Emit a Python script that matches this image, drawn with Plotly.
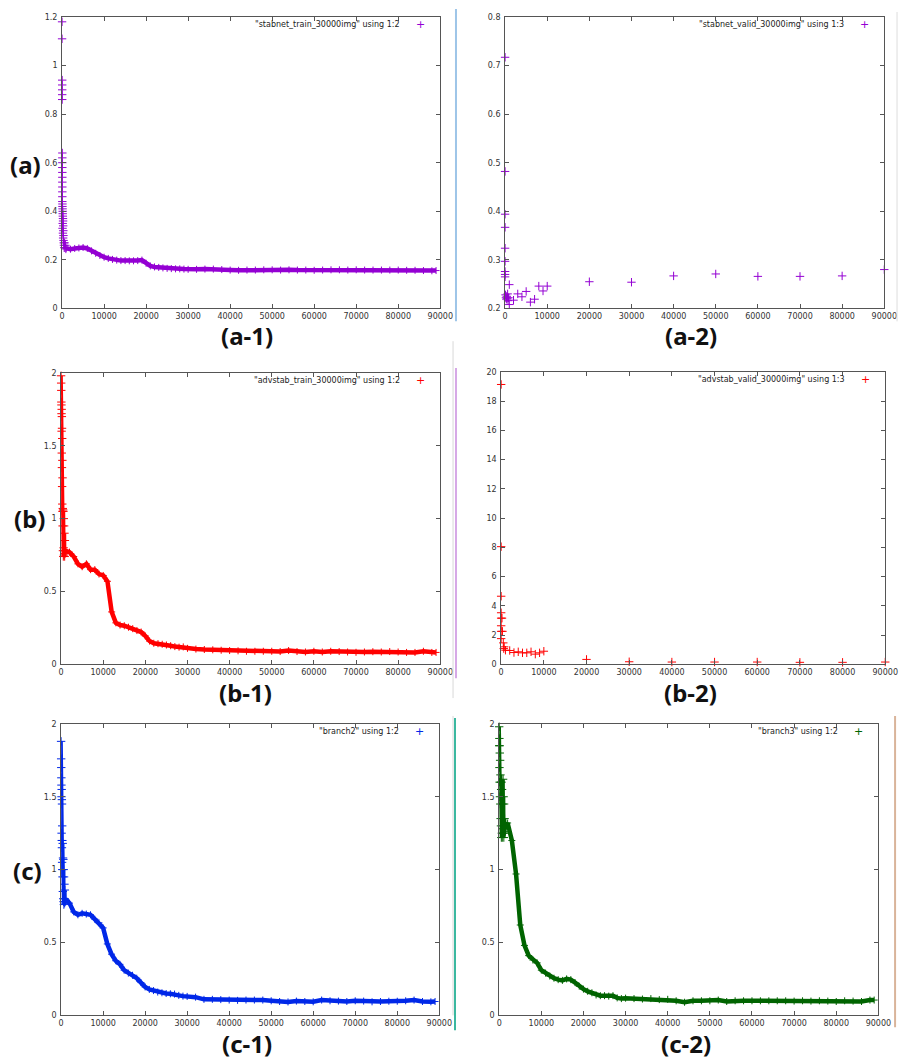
import plotly.graph_objects as go

# page is 912x1062; the HTML body adds an 8px margin, so the figure itself is
# drawn 8px smaller on each axis and all page positions are shifted by 8px.
PAGE_W, PAGE_H, OFF = 912, 1062, 8
W, H = PAGE_W - OFF, PAGE_H - OFF

# ---------------- data ----------------
ITER = [1000, 2000, 3000, 4000, 5000, 6000, 7000, 8000, 9000, 10000,
        11000, 12000, 13000, 14000, 15000, 16000, 17000, 18000, 19000, 20000,
        21000, 22000, 23000, 24000, 25000, 26000, 27000, 28000, 29000, 30000,
        32000, 34000, 36000, 38000, 40000, 42000, 44000, 46000, 48000, 50000,
        52000, 54000, 56000, 58000, 60000, 62000, 64000, 66000, 68000, 70000,
        72000, 74000, 76000, 78000, 80000, 82000, 84000, 86000, 88000, 89000]

A1_TRAIN = [0.248, 0.244, 0.247, 0.249, 0.251, 0.247, 0.237, 0.227, 0.218, 0.211,
            0.206, 0.202, 0.199, 0.197, 0.197, 0.196, 0.196, 0.197, 0.199, 0.186,
            0.175, 0.171, 0.169, 0.167, 0.165, 0.164, 0.163, 0.163, 0.162, 0.161,
            0.161, 0.162, 0.162, 0.160, 0.158, 0.157, 0.158, 0.158, 0.159, 0.159,
            0.158, 0.159, 0.158, 0.158, 0.157, 0.158, 0.159, 0.159, 0.158, 0.159,
            0.158, 0.158, 0.158, 0.158, 0.158, 0.157, 0.157, 0.156, 0.155, 0.156]
A1_SPIKE_X = [0, 0, 30, 30, 30, 30, 30, 60, 60, 60, 60, 60, 60, 60, 60, 60, 60, 60,
              90, 90, 120, 150, 150, 180, 210, 240, 150, 270, 120, 300, 200, 330,
              250, 360, 400, 450, 500, 600, 700, 800, 900]
A1_SPIKE_Y = [1.18, 1.11, 0.94, 0.92, 0.90, 0.88, 0.86, 0.64, 0.62, 0.60, 0.58, 0.56,
              0.54, 0.52, 0.50, 0.48, 0.46, 0.44, 0.43, 0.42, 0.41, 0.40, 0.39, 0.38,
              0.37, 0.36, 0.35, 0.34, 0.33, 0.32, 0.31, 0.30, 0.29, 0.28, 0.27, 0.26,
              0.25, 0.27, 0.25, 0.26, 0.245]

A2_X = [0, 0, 0, 0, 0, 0, 0, 0, 0, 100, 200, 300, 400, 500, 600, 700, 800, 1000, 1000,
        2000, 3000, 4000, 5000, 6000, 7000, 8000, 9000, 10000, 20000, 30000, 40000,
        50000, 60000, 70000, 80000, 90000]
A2_VALID = [0.717, 0.482, 0.394, 0.367, 0.324, 0.297, 0.276, 0.270, 0.265, 0.228, 0.222,
            0.219, 0.225, 0.221, 0.230, 0.216, 0.222, 0.249, 0.208, 0.217, 0.230, 0.224,
            0.235, 0.213, 0.219, 0.246, 0.236, 0.246, 0.255, 0.254, 0.267, 0.271, 0.266,
            0.266, 0.267, 0.280]

B1_TRAIN = [0.78, 0.77, 0.74, 0.69, 0.67, 0.69, 0.65, 0.65, 0.62, 0.61,
            0.57, 0.36, 0.285, 0.27, 0.265, 0.255, 0.245, 0.232, 0.222, 0.195,
            0.16, 0.145, 0.142, 0.138, 0.133, 0.128, 0.122, 0.118, 0.12, 0.11,
            0.105, 0.102, 0.10, 0.097, 0.095, 0.093, 0.09, 0.09, 0.09, 0.09,
            0.088, 0.095, 0.088, 0.085, 0.09, 0.085, 0.09, 0.088, 0.085, 0.083,
            0.085, 0.087, 0.085, 0.088, 0.085, 0.082, 0.082, 0.09, 0.082, 0.082]
B1_SPIKE_X = [0, 20, 40, 60, 80, 100, 120, 140, 160, 180, 200, 220, 240, 260, 280, 300,
              320, 340, 360, 400, 440, 480, 520, 560, 600, 640, 680, 720, 760, 800,
              850, 900, 950]
B1_SPIKE_Y = [1.98, 1.93, 1.88, 1.80, 1.78, 1.72, 1.60, 1.75, 1.45, 1.70, 1.35, 1.62,
              1.22, 1.55, 1.10, 1.40, 1.05, 1.28, 0.95, 1.07, 0.78, 1.06, 0.74, 1.05,
              0.80, 1.00, 0.75, 0.95, 0.78, 0.90, 0.74, 0.85, 0.76]

B2_X = [0, 0, 0, 0, 0, 0, 0, 0, 200, 300, 500, 600, 700, 1000, 2000, 3000, 4000, 5000,
        6000, 7000, 8000, 9000, 10000, 20000, 30000, 40000, 50000, 60000, 70000, 80000,
        90000]
B2_VALID = [19.14, 8.05, 4.66, 3.53, 3.16, 2.64, 2.26, 1.76, 3.16, 2.26, 1.47, 1.08, 1.2,
            0.97, 0.95, 0.81, 0.86, 0.79, 0.79, 0.86, 0.70, 0.79, 0.90, 0.34, 0.18, 0.16,
            0.16, 0.16, 0.14, 0.14, 0.16]

C1_TRAIN = [0.80, 0.77, 0.71, 0.69, 0.70, 0.695, 0.69, 0.66, 0.635, 0.60,
            0.49, 0.42, 0.375, 0.35, 0.31, 0.29, 0.275, 0.255, 0.225, 0.195,
            0.178, 0.17, 0.16, 0.155, 0.15, 0.148, 0.146, 0.137, 0.132, 0.13,
            0.125, 0.11, 0.11, 0.108, 0.105, 0.103, 0.105, 0.105, 0.105, 0.10,
            0.095, 0.092, 0.098, 0.095, 0.093, 0.105, 0.10, 0.098, 0.095, 0.10,
            0.098, 0.093, 0.095, 0.097, 0.097, 0.10, 0.105, 0.095, 0.093, 0.095]
C1_SPIKE_X = [0, 20, 40, 60, 80, 100, 120, 140, 160, 180, 200, 220, 240, 260, 280, 300,
              340, 380, 420, 460, 500, 540, 580, 620, 660, 700, 750, 800, 850, 900, 950]
C1_SPIKE_Y = [1.88, 1.76, 1.70, 1.63, 1.58, 1.50, 1.25, 1.55, 1.20, 1.48, 1.15, 1.45,
              1.05, 1.30, 1.00, 1.20, 0.95, 1.18, 0.85, 1.08, 0.80, 1.07, 0.78, 1.00,
              0.76, 0.95, 0.80, 0.90, 0.77, 0.86, 0.78]

C2_TRAIN = [1.28, 1.32, 1.20, 0.97, 0.62, 0.48, 0.41, 0.38, 0.36, 0.31,
            0.29, 0.27, 0.255, 0.245, 0.24, 0.25, 0.245, 0.225, 0.20, 0.18,
            0.165, 0.155, 0.14, 0.135, 0.135, 0.132, 0.135, 0.12, 0.115, 0.118,
            0.115, 0.112, 0.115, 0.108, 0.11, 0.10, 0.09, 0.10, 0.10, 0.10,
            0.105, 0.095, 0.10, 0.10, 0.10, 0.10, 0.10, 0.10, 0.10, 0.098,
            0.10, 0.098, 0.10, 0.098, 0.095, 0.10, 0.098, 0.095, 0.105, 0.105]
C2_SPIKE_X = [0, 20, 40, 60, 80, 100, 140, 180, 220, 260, 300, 340, 380, 420, 460, 500,
              560, 620, 680, 740, 800, 860, 920, 980, 1040, 1100, 1160, 1220, 1280, 1340,
              1400]
C2_SPIKE_Y = [1.98, 1.85, 1.90, 1.70, 1.85, 1.60, 1.80, 1.50, 1.75, 1.45, 1.65, 1.35,
              1.60, 1.30, 1.55, 1.22, 1.60, 1.25, 1.55, 1.22, 1.45, 1.28, 1.62, 1.25,
              1.50, 1.22, 1.45, 1.25, 1.35, 1.26, 1.30]

LEGENDS = ['"stabnet_train_30000img" using 1:2', '"stabnet_valid_30000img" using 1:3',
           '"advstab_train_30000img" using 1:2', '"advstab_valid_30000img" using 1:3',
           '"branch2" using 1:2', '"branch3" using 1:2']
PANEL_LABELS = ['(a-1)', '(a-2)', '(b-1)', '(b-2)', '(c-1)', '(c-2)']
ROW_LABELS = ['(a)', '(b)', '(c)']
X_TICKS = [0, 10000, 20000, 30000, 40000, 50000, 60000, 70000, 80000, 90000]

PURPLE, RED, BLUE, GREEN = '#9400D3', '#FF0000', '#0028E8', '#006400'

# ---------------- layout helpers (page pixels -> paper) ----------------
def fx(p):
    return (p - OFF) / W

def fy(p):
    return 1 - (p - OFF) / H

# (left, right, top, bottom) in page pixels, y-range, y dtick, color, label pos
panels = [
    dict(box=(60, 445, 13, 307), yr=(0, 1.2), dt=0.2, col=PURPLE, lab=(248, 334)),
    dict(box=(511, 897, 13, 307), yr=(0.2, 0.8), dt=0.1, col=PURPLE, lab=(700, 334)),
    dict(box=(59, 445, 372, 666), yr=(0, 2), dt=0.5, col=RED, lab=(247, 694)),
    dict(box=(507, 898, 371, 666), yr=(0, 20), dt=2, col=RED, lab=(700, 694)),
    dict(box=(59, 444, 726, 1020), yr=(0, 2), dt=0.5, col=BLUE, lab=(248, 1048)),
    dict(box=(505, 891, 726, 1020), yr=(0, 2), dt=0.5, col=GREEN, lab=(695, 1048)),
]

series = [
    dict(kind='train', spike=(A1_SPIKE_X, A1_SPIKE_Y), spike_mode='markers', y=A1_TRAIN),
    dict(kind='valid', x=A2_X, y=A2_VALID),
    dict(kind='train', spike=(B1_SPIKE_X, B1_SPIKE_Y), spike_mode='lines+markers', y=B1_TRAIN),
    dict(kind='valid', x=B2_X, y=B2_VALID),
    dict(kind='train', spike=(C1_SPIKE_X, C1_SPIKE_Y), spike_mode='lines+markers', y=C1_TRAIN),
    dict(kind='train', spike=(C2_SPIKE_X, C2_SPIKE_Y), spike_mode='lines+markers', y=C2_TRAIN),
]

fig = go.Figure()
tick_font = dict(family='DejaVu Sans', size=8, color='#333333')
AXCOL = '#555555'
annotations = []

for i, (p, s) in enumerate(zip(panels, series)):
    n = '' if i == 0 else str(i + 1)
    xa, ya = 'x' + n, 'y' + n
    col = p['col']
    if s['kind'] == 'train':
        sx, sy = s['spike']
        mk_s = dict(symbol='cross-thin', size=6, line=dict(color=col, width=1), color=col)
        mk_m = dict(symbol='cross-thin', size=5, line=dict(color=col, width=1), color=col)
        fig.add_trace(go.Scatter(x=sx, y=sy, mode=s['spike_mode'], xaxis=xa, yaxis=ya,
                                 marker=mk_s, line=dict(color=col, width=3.5),
                                 cliponaxis=False, showlegend=False))
        fig.add_trace(go.Scatter(x=ITER, y=s['y'], mode='lines+markers', xaxis=xa, yaxis=ya,
                                 marker=mk_m, line=dict(color=col, width=4.5),
                                 cliponaxis=False, showlegend=False))
    else:
        mk_v = dict(symbol='cross-thin', size=6, line=dict(color=col, width=1), color=col)
        fig.add_trace(go.Scatter(x=s['x'], y=s['y'], mode='markers', xaxis=xa, yaxis=ya,
                                 marker=mk_v, cliponaxis=False, showlegend=False))

    l, r, t, b = p['box']
    common = dict(showline=True, linecolor=AXCOL, linewidth=1, mirror='ticks',
                  ticks='inside', ticklen=4, tickcolor=AXCOL, tickwidth=1,
                  showgrid=False, zeroline=False, tickfont=tick_font)
    fig.update_layout(**{
        'xaxis' + n: dict(domain=[fx(l), fx(r)], range=[0, 90000], tickvals=X_TICKS,
                          tickformat='d', anchor=ya, **common),
        'yaxis' + n: dict(domain=[fy(b), fy(t)], range=list(p['yr']), dtick=p['dt'],
                          tick0=0, anchor=xa, ticklabelstandoff=2, **common),
    })

    # gnuplot-style key: text then sample to the right
    annotations.append(dict(x=fx(r - 39), y=fy(t + 8), xref='paper', yref='paper',
                            text=LEGENDS[i], showarrow=False, xanchor='right',
                            yanchor='middle', font=dict(family='DejaVu Sans', size=8,
                                                        color='#222222')))
    annotations.append(dict(x=fx(r - 20), y=fy(t + 8), xref='paper', yref='paper',
                            text='+', showarrow=False, xanchor='center', yanchor='middle',
                            font=dict(family='DejaVu Sans', size=11, color=col)))
    lx, ly = p['lab']
    annotations.append(dict(x=fx(lx), y=fy(ly), xref='paper', yref='paper',
                            text='<b>%s</b>' % PANEL_LABELS[i], showarrow=False,
                            xanchor='center', yanchor='middle', borderpad=0,
                            font=dict(family='Noto Sans', size=24, color='#111111')))

for lab, (cx, cy) in zip(ROW_LABELS, [(23, 162), (27, 519), (25, 874)]):
    annotations.append(dict(x=fx(cx), y=fy(cy), xref='paper', yref='paper',
                            text='<b>%s</b>' % lab, showarrow=False, xanchor='center',
                            yanchor='middle',
                            font=dict(family='Noto Sans', size=24, color='#111111')))

# thin separator lines from the pasted screenshots
sep = [(461, 5, 320, '#9EC5E8', 2), (910, 8, 320, '#DDDDDD', 1),
       (458, 340, 700, '#D8D8D8', 1), (461, 367, 680, '#D6A8E6', 2),
       (458, 718, 1020, '#D8D8D8', 1), (460, 720, 1035, '#3CB8A0', 2),
       (908, 718, 1032, '#D9B49A', 2)]
shapes = [dict(type='line', xref='paper', yref='paper', x0=fx(x), x1=fx(x), y0=fy(y0),
               y1=fy(y1), line=dict(color=c, width=w)) for x, y0, y1, c, w in sep]

fig.update_layout(width=W, height=H, autosize=False, margin=dict(l=0, r=0, t=0, b=0),
                  paper_bgcolor='white', plot_bgcolor='white', showlegend=False,
                  annotations=annotations, shapes=shapes)

fig.write_html('out.html')
